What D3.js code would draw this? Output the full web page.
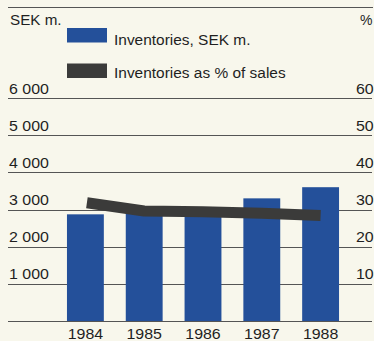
<!DOCTYPE html>
<html>
<head>
<meta charset="utf-8">
<script src="https://cdn.jsdelivr.net/npm/d3@7/dist/d3.min.js"></script>
<style>
  html, body { margin: 0; padding: 0; background: #f8f7ec; }
  svg { display: block; }
  text { font-family: "Liberation Sans", Arial, Helvetica, sans-serif; fill: #1f1f1f; }
</style>
</head>
<body>
<svg id="chart" width="374" height="341"></svg>
<script>
// Inventories, 1984–1988
const years = ["1984", "1985", "1986", "1987", "1988"];
const inventoriesSEK = [2870, 2900, 2960, 3300, 3600];     // SEK m.
const inventoriesPct = [31.8, 29.6, 29.4, 29.0, 28.4];     // % of sales
const leftTicks = [1000, 2000, 3000, 4000, 5000, 6000];
const rightTicks = [10, 20, 30, 40, 50, 60];
const gridTicks = [0, 1000, 2000, 3000, 4000, 5000, 6000];

const svg = d3.select("#chart");

const x = d3.scaleBand()
  .domain(years)
  .range([56, 350])
  .paddingInner(0.373)
  .paddingOuter(0.1865);

const yL = d3.scaleLinear().domain([0, 6000]).range([321, 98]);
const yR = d3.scaleLinear().domain([0, 60]).range([321, 98]);

// "6 000" style thousands grouping
const fmt = d => d3.format(",")(d).replace(",", " ");

// wide-set numerals: place text and stretch it horizontally
const placeWide = (sel, fx, fy, sx = 1.1) =>
  sel.attr("x", 0).attr("y", 0)
     .attr("transform", (d, i) => `translate(${fx(d, i)},${fy(d, i)}) scale(${sx},1)`);

// top rule
svg.append("line")
  .attr("x1", 8).attr("x2", 373)
  .attr("y1", 7.5).attr("y2", 7.5)
  .attr("stroke", "#555").attr("stroke-width", 1);

// grid lines
svg.append("g").selectAll("line")
  .data(gridTicks)
  .join("line")
  .attr("x1", 8).attr("x2", 372)
  .attr("y1", d => Math.round(yL(d)) + 0.5)
  .attr("y2", d => Math.round(yL(d)) + 0.5)
  .attr("stroke", "#555")
  .attr("stroke-width", 1);

// left axis labels
svg.append("g").selectAll("text")
  .data(leftTicks)
  .join("text")
  .attr("font-size", 14.5)
  .call(placeWide, () => 9, d => yL(d) - 4.5)
  .text(fmt);

// right axis labels (run off the edge)
svg.append("g").selectAll("text")
  .data(rightTicks)
  .join("text")
  .attr("font-size", 14.5)
  .call(placeWide, () => 356, d => yR(d) - 4.5)
  .text(d => d);

// unit captions
svg.append("text").attr("font-size", 14.5)
  .call(placeWide, () => 10, () => 24.5, 1.05).text("SEK m.");
svg.append("text").attr("font-size", 14)
  .call(placeWide, () => 360, () => 24.5, 1.0).text("%");

// bars
svg.append("g").selectAll("rect")
  .data(years.map((y, i) => ({ year: y, v: inventoriesSEK[i] })))
  .join("rect")
  .attr("x", d => x(d.year))
  .attr("width", x.bandwidth())
  .attr("y", d => yL(d.v))
  .attr("height", d => yL(0) - yL(d.v))
  .attr("fill", "#24509a");

// inventories as % of sales band
const line = d3.line()
  .x((d, i) => x(years[i]) + x.bandwidth() / 2 + (i === 0 ? 1.5 : 0))
  .y(d => yR(d));

svg.append("path")
  .datum(inventoriesPct)
  .attr("d", line)
  .attr("fill", "none")
  .attr("stroke", "#3b3b3a")
  .attr("stroke-width", 11)
  .attr("stroke-linecap", "butt")
  .attr("stroke-linejoin", "round");

// year labels
svg.append("g").selectAll("text")
  .data(years)
  .join("text")
  .attr("text-anchor", "middle")
  .attr("font-size", 14.5)
  .call(placeWide, d => x(d) + x.bandwidth() / 2, () => 338.5)
  .text(d => d);

// legend
const legend = [
  { label: "Inventories, SEK m.", color: "#24509a", y: 28, ty: 44.5 },
  { label: "Inventories as % of sales", color: "#3b3b3a", y: 63.5, ty: 78 }
];
const lg = svg.append("g").selectAll("g").data(legend).join("g");
lg.append("rect")
  .attr("x", 67).attr("y", d => d.y)
  .attr("width", 40).attr("height", 14.5)
  .attr("fill", d => d.color);
lg.append("text")
  .attr("font-size", 15)
  .call(placeWide, () => 114, d => d.ty, 1.03)
  .text(d => d.label);
</script>
</body>
</html>
